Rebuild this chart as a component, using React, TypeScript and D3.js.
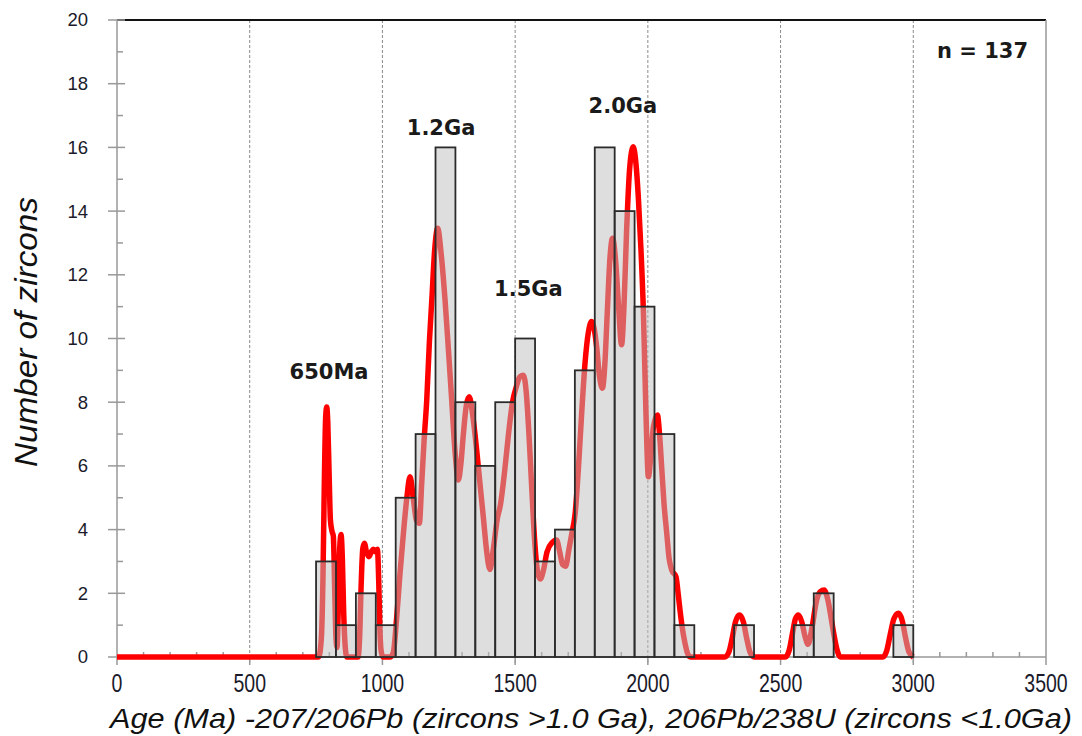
import React from "react";
import * as d3 from "d3";

// Detrital zircon age histogram (75 Ma bins) with probability density curve
const BIN_WIDTH = 75;
const binStarts = [
  750, 825, 900, 975, 1050, 1125, 1200, 1275, 1350, 1425, 1500, 1575, 1650, 1725, 1800,
  1875, 1950, 2025, 2100, 2175, 2250, 2325, 2400, 2475, 2550, 2625, 2700, 2775, 2850, 2925,
];
const binCounts = [
  3, 1, 2, 1, 5, 7, 16, 8, 6, 8, 10, 3, 4, 9, 16,
  14, 11, 7, 1, 0, 0, 1, 0, 0, 1, 2, 0, 0, 0, 1,
];

// Probability density curve: [age (Ma), relative probability on count scale]
const densityCurve: [number, number][] = [
  [0, 0], [760, 0], [770, 0.6], [776, 2.5], [781, 5.4], [786, 7.5], [790, 7.85], [794, 7.4],
  [799, 5.8], [804, 4.3], [810, 3.95], [815, 3.8], [820, 2.2], [825, 0.6], [829, 0.3],
  [834, 1.6], [839, 3.4], [844, 3.85], [849, 3.1], [854, 1.4], [860, 0.3], [866, 0],
  [908, 0], [914, 0.6], [920, 2.3], [926, 3.4], [932, 3.57], [940, 3.3], [949, 3.15],
  [958, 3.3], [966, 3.38], [974, 3.3], [981, 3.38], [986, 2.4], [990, 1.0], [995, 0.2], [1002, 0],
  [1030, 0], [1041, 0.15], [1054, 1.27], [1066, 2.6], [1079, 3.88], [1092, 5.0], [1104, 5.66],
  [1116, 5.0], [1128, 4.3], [1139, 4.2], [1148, 5.45], [1157, 6.8], [1167, 8.07], [1177, 9.9],
  [1186, 11.2], [1197, 12.8], [1208, 13.46], [1222, 12.6], [1236, 11.2], [1249, 9.6],
  [1261, 8.07], [1274, 6.4], [1286, 5.56], [1296, 6.1], [1305, 7.0], [1316, 7.9], [1327, 8.17],
  [1340, 7.6], [1355, 6.5], [1368, 5.4], [1380, 4.4], [1393, 3.3], [1405, 2.75], [1418, 3.4],
  [1432, 4.3], [1445, 4.8], [1460, 5.8], [1475, 7.0], [1490, 8.0], [1505, 8.5], [1518, 8.8],
  [1531, 8.85], [1542, 8.3], [1552, 7.0], [1562, 5.4], [1574, 3.6], [1585, 2.65], [1595, 2.45],
  [1606, 2.7], [1620, 3.3], [1640, 3.6], [1656, 3.67], [1668, 3.3], [1679, 2.9], [1690, 2.85],
  [1703, 3.4], [1714, 3.9], [1726, 4.5], [1738, 5.87], [1751, 7.7], [1763, 9.2], [1776, 10.2],
  [1788, 10.53], [1798, 10.3], [1807, 9.74], [1818, 8.8], [1829, 8.44], [1838, 9.2],
  [1847, 10.8], [1857, 12.5], [1867, 13.15], [1878, 12.5], [1889, 11.1], [1901, 9.8],
  [1910, 11.0], [1920, 13.4], [1932, 15.4], [1945, 16.02], [1955, 15.5], [1964, 14.45],
  [1974, 12.8], [1983, 10.9], [1993, 7.6], [2002, 5.66], [2012, 6.4], [2021, 7.23], [2036, 7.6],
  [2044, 7.0], [2052, 5.97], [2061, 4.8], [2071, 3.9], [2080, 3.1], [2090, 2.73], [2106, 2.52],
  [2114, 2.0], [2121, 1.48], [2130, 0.9], [2140, 0.43], [2150, 0.1], [2160, 0],
  [2290, 0], [2305, 0.15], [2318, 0.6], [2330, 1.1], [2345, 1.32], [2360, 1.1], [2372, 0.6],
  [2385, 0.15], [2400, 0],
  [2518, 0], [2532, 0.2], [2545, 0.75], [2556, 1.2], [2567, 1.32], [2580, 1.1], [2592, 0.65],
  [2604, 0.4], [2618, 0.9], [2636, 1.79], [2650, 2.05], [2664, 2.1], [2678, 1.8], [2690, 1.25],
  [2699, 0.8], [2712, 0.25], [2725, 0],
  [2885, 0], [2900, 0.2], [2913, 0.7], [2927, 1.2], [2944, 1.37], [2958, 1.15], [2971, 0.6],
  [2984, 0.15], [3000, 0],
];

const xTicks = [0, 500, 1000, 1500, 2000, 2500, 3000, 3500];
const xGridLines = [500, 1000, 1500, 2000, 2500, 3000];
const yTicks = [0, 2, 4, 6, 8, 10, 12, 14, 16, 18, 20];

// Peak labels, anchored at (age, count) in data space
const peakLabels: { text: string; age: number; value: number }[] = [
  { text: "650Ma", age: 799, value: 8.73 },
  { text: "1.2Ga", age: 1221, value: 16.39 },
  { text: "1.5Ga", age: 1550, value: 11.33 },
  { text: "2.0Ga", age: 1906, value: 17.08 },
  { text: "n = 137", age: 3261, value: 18.81 },
];

const X_TITLE = "Age (Ma) -207/206Pb (zircons >1.0 Ga), 206Pb/238U (zircons <1.0Ga)";
const Y_TITLE = "Number of zircons";

export default function App() {
  const left = 117;
  const right = 1046;
  const top = 20;
  const bottom = 657;

  const x = d3.scaleLinear().domain([0, 3500]).range([left, right]);
  const y = d3.scaleLinear().domain([0, 20]).range([bottom, top]);

  const minorX = d3.range(0, 3501, 100).filter((v) => v % 500 !== 0);
  const minorY = d3.range(1, 20, 2);

  const line = d3
    .line<[number, number]>()
    .x((d) => x(d[0]))
    .y((d) => y(d[1]))
    .curve(d3.curveMonotoneX);

  const bars = binStarts
    .map((s, i) => ({ start: s, count: binCounts[i] }))
    .filter((b) => b.count > 0);

  const sans = "'Liberation Sans', Arial, sans-serif";

  return (
    <svg
      width={1082}
      height={736}
      style={{ position: "absolute", left: 0, top: 0, display: "block", background: "#fff" }}
    >
      {/* dashed vertical gridlines */}
      {xGridLines.map((v) => (
        <line
          key={"g" + v}
          x1={x(v)}
          x2={x(v)}
          y1={top}
          y2={bottom + 8}
          stroke="#8a8a8a"
          strokeWidth={1}
          strokeDasharray="3,2"
        />
      ))}

      {/* frame */}
      <line x1={left} x2={right} y1={top} y2={top} stroke="#111" strokeWidth={2} />
      <line x1={right} x2={right} y1={top} y2={bottom} stroke="#999" strokeWidth={1.5} />
      <line x1={left} x2={left} y1={top} y2={bottom} stroke="#999" strokeWidth={1.5} />
      <line x1={left} x2={right} y1={bottom} y2={bottom} stroke="#999" strokeWidth={1.5} />

      {/* y ticks */}
      {yTicks.map((v) => (
        <line key={"yt" + v} x1={left - 9} x2={left + 8} y1={y(v)} y2={y(v)} stroke="#999" strokeWidth={1.5} />
      ))}
      {minorY.map((v) => (
        <line key={"ym" + v} x1={left} x2={left + 6} y1={y(v)} y2={y(v)} stroke="#999" strokeWidth={1.5} />
      ))}
      {/* x ticks */}
      {xTicks.map((v) => (
        <line key={"xt" + v} x1={x(v)} x2={x(v)} y1={bottom} y2={bottom + 8} stroke="#999" strokeWidth={1.5} />
      ))}
      {minorX.map((v) => (
        <line key={"xm" + v} x1={x(v)} x2={x(v)} y1={bottom} y2={bottom - 5} stroke="#999" strokeWidth={1.5} />
      ))}

      {/* probability density curve */}
      <path d={line(densityCurve) || ""} fill="none" stroke="#ff0000" strokeWidth={5.5} strokeLinejoin="round" />

      {/* histogram bars */}
      {bars.map((b) => (
        <rect
          key={"b" + b.start}
          x={x(b.start)}
          y={y(b.count)}
          width={x(b.start + BIN_WIDTH) - x(b.start)}
          height={y(0) - y(b.count)}
          fill="rgb(190,190,190)"
          fillOpacity={0.5}
          stroke="#2b2b2b"
          strokeWidth={1.8}
        />
      ))}

      {/* y tick labels */}
      {yTicks.map((v) => (
        <text
          key={"yl" + v}
          x={88}
          y={y(v)}
          dy="0.35em"
          textAnchor="end"
          fontFamily={sans}
          fontSize={18.5}
          fill="#1a1a2a"
        >
          {v}
        </text>
      ))}

      {/* x tick labels (condensed) */}
      {xTicks.map((v) => (
        <text
          key={"xl" + v}
          transform={`translate(${x(v)},692) scale(0.78,1)`}
          textAnchor="middle"
          fontFamily={sans}
          fontSize={25}
          fill="#1a1a2a"
        >
          {v}
        </text>
      ))}

      {/* axis titles */}
      <text
        x={110}
        y={728}
        fontFamily={sans}
        fontStyle="italic"
        fontSize={28}
        fill="#111"
        textLength={962}
        lengthAdjust="spacingAndGlyphs"
      >
        {X_TITLE}
      </text>
      <text
        transform="translate(37,332) rotate(-90)"
        textAnchor="middle"
        fontFamily={sans}
        fontStyle="italic"
        fontSize={32}
        fill="#111"
        textLength={270}
        lengthAdjust="spacingAndGlyphs"
      >
        {Y_TITLE}
      </text>

      {/* peak labels */}
      {peakLabels.map((p) => (
        <text
          key={p.text}
          x={x(p.age)}
          y={y(p.value)}
          textAnchor="middle"
          fontFamily="'DejaVu Sans', Verdana, sans-serif"
          fontWeight="bold"
          fontSize={21}
          fill="#1a1a1a"
        >
          {p.text}
        </text>
      ))}
    </svg>
  );
}
